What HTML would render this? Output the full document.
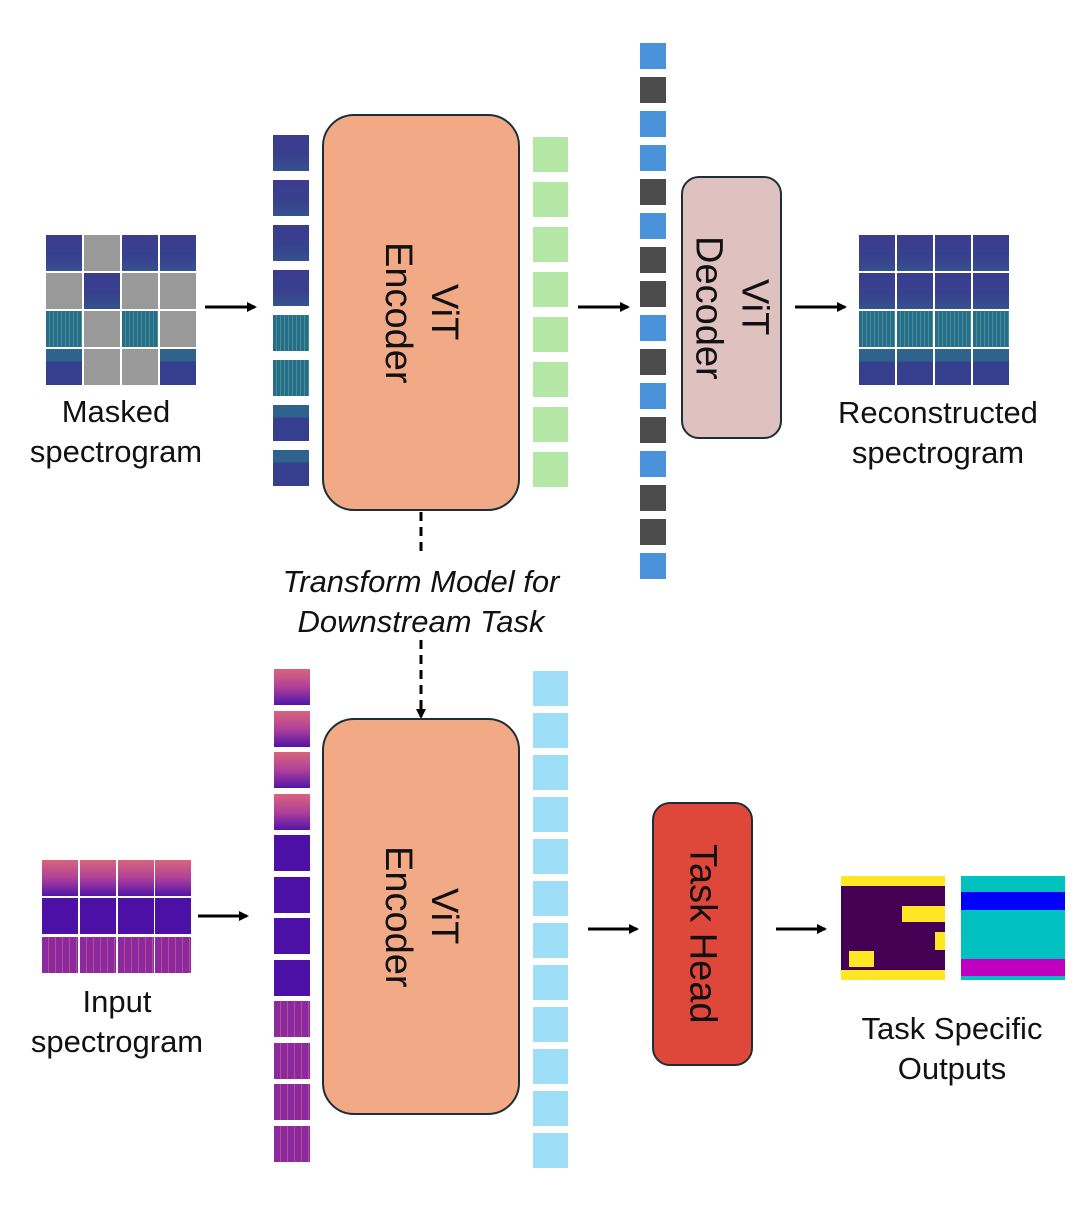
<!DOCTYPE html>
<html><head><meta charset="utf-8"><style>
body{margin:0;width:1076px;height:1215px;background:#fff;position:relative;overflow:hidden;font-family:"Liberation Sans","DejaVu Sans",sans-serif;}
div{position:absolute;box-sizing:border-box;}
.t{width:36px;height:36px;}
.b{background:linear-gradient(#3b3c8e,#38418e 60%,#34528f);}
.bs{background:repeating-linear-gradient(90deg,#2a6a8a 0 3px,#3c958e 3px 4px);}
.bl{background:linear-gradient(#2f628c 0 35%,#363f8d 35%);}
.g{background:#999;}
.m1{background:linear-gradient(#d8657a,#b0409a 50%,#5214a8);}
.m2{background:#4c10a6;}
.m3{background:repeating-linear-gradient(90deg,#8a2a9e 0 6px,#c04a90 6px 7px);}
.lab{font-size:31px;color:#111;text-align:center;width:260px;line-height:40px;}
.box{border:2px solid #1c2f36;}
.vt{writing-mode:vertical-rl;font-size:38px;color:#111;text-align:center;line-height:46px;display:flex;align-items:center;justify-content:center;}
.gr{width:35px;height:35px;background:#b4e6a5;left:533px;}
.cy{width:35px;height:35px;background:#9edff7;left:533px;}
.tk{width:26px;height:26px;left:640px;}
.bu{background:#4a92da;}.dk{background:#4b4b4b;}
</style></head><body>
<svg width="1076" height="1215" style="position:absolute;left:0;top:0">
<defs><marker id="a" markerWidth="10" markerHeight="10" refX="8" refY="5" orient="auto" markerUnits="userSpaceOnUse"><path d="M0,0 L10,5 L0,10 z" fill="#000"/></marker></defs>
<g stroke="#000" stroke-width="3" marker-end="url(#a)">
<line x1="205" y1="307" x2="255" y2="307"/>
<line x1="578" y1="307" x2="628" y2="307"/>
<line x1="795" y1="307" x2="845" y2="307"/>
<line x1="198" y1="916" x2="247" y2="916"/>
<line x1="588" y1="929" x2="637" y2="929"/>
<line x1="776" y1="929" x2="825" y2="929"/>
<line x1="421" y1="640" x2="421" y2="717" stroke-dasharray="9,6"/>
</g>
<line x1="421" y1="512" x2="421" y2="556" stroke="#000" stroke-width="3" stroke-dasharray="9,6"/>
</svg>

<div class="t b" style="left:46px;top:235px"></div><div class="t g" style="left:84px;top:235px"></div><div class="t b" style="left:122px;top:235px"></div><div class="t b" style="left:160px;top:235px"></div>
<div class="t g" style="left:46px;top:273px"></div><div class="t b" style="left:84px;top:273px"></div><div class="t g" style="left:122px;top:273px"></div><div class="t g" style="left:160px;top:273px"></div>
<div class="t bs" style="left:46px;top:311px"></div><div class="t g" style="left:84px;top:311px"></div><div class="t bs" style="left:122px;top:311px"></div><div class="t g" style="left:160px;top:311px"></div>
<div class="t bl" style="left:46px;top:349px"></div><div class="t g" style="left:84px;top:349px"></div><div class="t g" style="left:122px;top:349px"></div><div class="t bl" style="left:160px;top:349px"></div>
<div class="lab" style="left:-14px;top:392px">Masked<br>spectrogram</div>

<div class="t b" style="left:273px;top:135px"></div><div class="t b" style="left:273px;top:180px"></div><div class="t b" style="left:273px;top:225px"></div><div class="t b" style="left:273px;top:270px"></div>
<div class="t bs" style="left:273px;top:315px"></div><div class="t bs" style="left:273px;top:360px"></div><div class="t bl" style="left:273px;top:405px"></div><div class="t bl" style="left:273px;top:450px"></div>

<div class="box vt" style="left:322px;top:114px;width:198px;height:397px;border-radius:32px;background:#f2a985">ViT<br>Encoder</div>

<div class="gr" style="top:137px"></div><div class="gr" style="top:182px"></div><div class="gr" style="top:227px"></div><div class="gr" style="top:272px"></div>
<div class="gr" style="top:317px"></div><div class="gr" style="top:362px"></div><div class="gr" style="top:407px"></div><div class="gr" style="top:452px"></div>

<div class="tk bu" style="top:43px"></div><div class="tk dk" style="top:77px"></div><div class="tk bu" style="top:111px"></div><div class="tk bu" style="top:145px"></div>
<div class="tk dk" style="top:179px"></div><div class="tk bu" style="top:213px"></div><div class="tk dk" style="top:247px"></div><div class="tk dk" style="top:281px"></div>
<div class="tk bu" style="top:315px"></div><div class="tk dk" style="top:349px"></div><div class="tk bu" style="top:383px"></div><div class="tk dk" style="top:417px"></div>
<div class="tk bu" style="top:451px"></div><div class="tk dk" style="top:485px"></div><div class="tk dk" style="top:519px"></div><div class="tk bu" style="top:553px"></div>

<div class="box vt" style="left:681px;top:176px;width:101px;height:263px;border-radius:18px;background:#dfc1c0">ViT<br>Decoder</div>

<div class="t b" style="left:859px;top:235px"></div><div class="t b" style="left:897px;top:235px"></div><div class="t b" style="left:935px;top:235px"></div><div class="t b" style="left:973px;top:235px"></div>
<div class="t b" style="left:859px;top:273px"></div><div class="t b" style="left:897px;top:273px"></div><div class="t b" style="left:935px;top:273px"></div><div class="t b" style="left:973px;top:273px"></div>
<div class="t bs" style="left:859px;top:311px"></div><div class="t bs" style="left:897px;top:311px"></div><div class="t bs" style="left:935px;top:311px"></div><div class="t bs" style="left:973px;top:311px"></div>
<div class="t bl" style="left:859px;top:349px"></div><div class="t bl" style="left:897px;top:349px"></div><div class="t bl" style="left:935px;top:349px"></div><div class="t bl" style="left:973px;top:349px"></div>
<div class="lab" style="left:808px;top:393px">Reconstructed<br>spectrogram</div>

<div class="lab" style="left:251px;top:562px;width:340px;font-style:italic;font-size:31px">Transform Model for<br>Downstream Task</div>

<div class="t m1" style="left:42px;top:860px"></div><div class="t m1" style="left:80px;top:860px"></div><div class="t m1" style="left:118px;top:860px"></div><div class="t m1" style="left:155px;top:860px"></div>
<div class="t m2" style="left:42px;top:898px"></div><div class="t m2" style="left:80px;top:898px"></div><div class="t m2" style="left:118px;top:898px"></div><div class="t m2" style="left:155px;top:898px"></div>
<div class="t m3" style="left:42px;top:937px"></div><div class="t m3" style="left:80px;top:937px"></div><div class="t m3" style="left:118px;top:937px"></div><div class="t m3" style="left:155px;top:937px"></div>
<div class="lab" style="left:-13px;top:982px">Input<br>spectrogram</div>

<div class="t m1" style="left:274px;top:669px"></div><div class="t m1" style="left:274px;top:711px"></div><div class="t m1" style="left:274px;top:752px"></div><div class="t m1" style="left:274px;top:794px"></div>
<div class="t m2" style="left:274px;top:835px"></div><div class="t m2" style="left:274px;top:877px"></div><div class="t m2" style="left:274px;top:918px"></div><div class="t m2" style="left:274px;top:960px"></div>
<div class="t m3" style="left:274px;top:1001px"></div><div class="t m3" style="left:274px;top:1043px"></div><div class="t m3" style="left:274px;top:1084px"></div><div class="t m3" style="left:274px;top:1126px"></div>

<div class="box vt" style="left:322px;top:718px;width:198px;height:397px;border-radius:32px;background:#f2a985">ViT<br>Encoder</div>

<div class="cy" style="top:671px"></div><div class="cy" style="top:713px"></div><div class="cy" style="top:755px"></div><div class="cy" style="top:797px"></div>
<div class="cy" style="top:839px"></div><div class="cy" style="top:881px"></div><div class="cy" style="top:923px"></div><div class="cy" style="top:965px"></div>
<div class="cy" style="top:1007px"></div><div class="cy" style="top:1049px"></div><div class="cy" style="top:1091px"></div><div class="cy" style="top:1133px"></div>

<div class="box vt" style="left:652px;top:802px;width:101px;height:264px;border-radius:18px;background:#e0473b">Task Head</div>

<div style="left:841px;top:876px;width:104px;height:104px;background:#fde725"></div>
<div style="left:841px;top:886px;width:104px;height:84px;background:#440154"></div>
<div style="left:902px;top:906px;width:43px;height:16px;background:#fde725"></div>
<div style="left:935px;top:932px;width:10px;height:18px;background:#fde725"></div>
<div style="left:849px;top:951px;width:25px;height:16px;background:#fde725"></div>
<div style="left:961px;top:876px;width:104px;height:104px;background:#00c0c0"></div>
<div style="left:961px;top:892px;width:104px;height:18px;background:#0000ff"></div>
<div style="left:961px;top:959px;width:104px;height:17px;background:#c000c0"></div>
<div class="lab" style="left:822px;top:1009px">Task Specific<br>Outputs</div>
</body></html>
